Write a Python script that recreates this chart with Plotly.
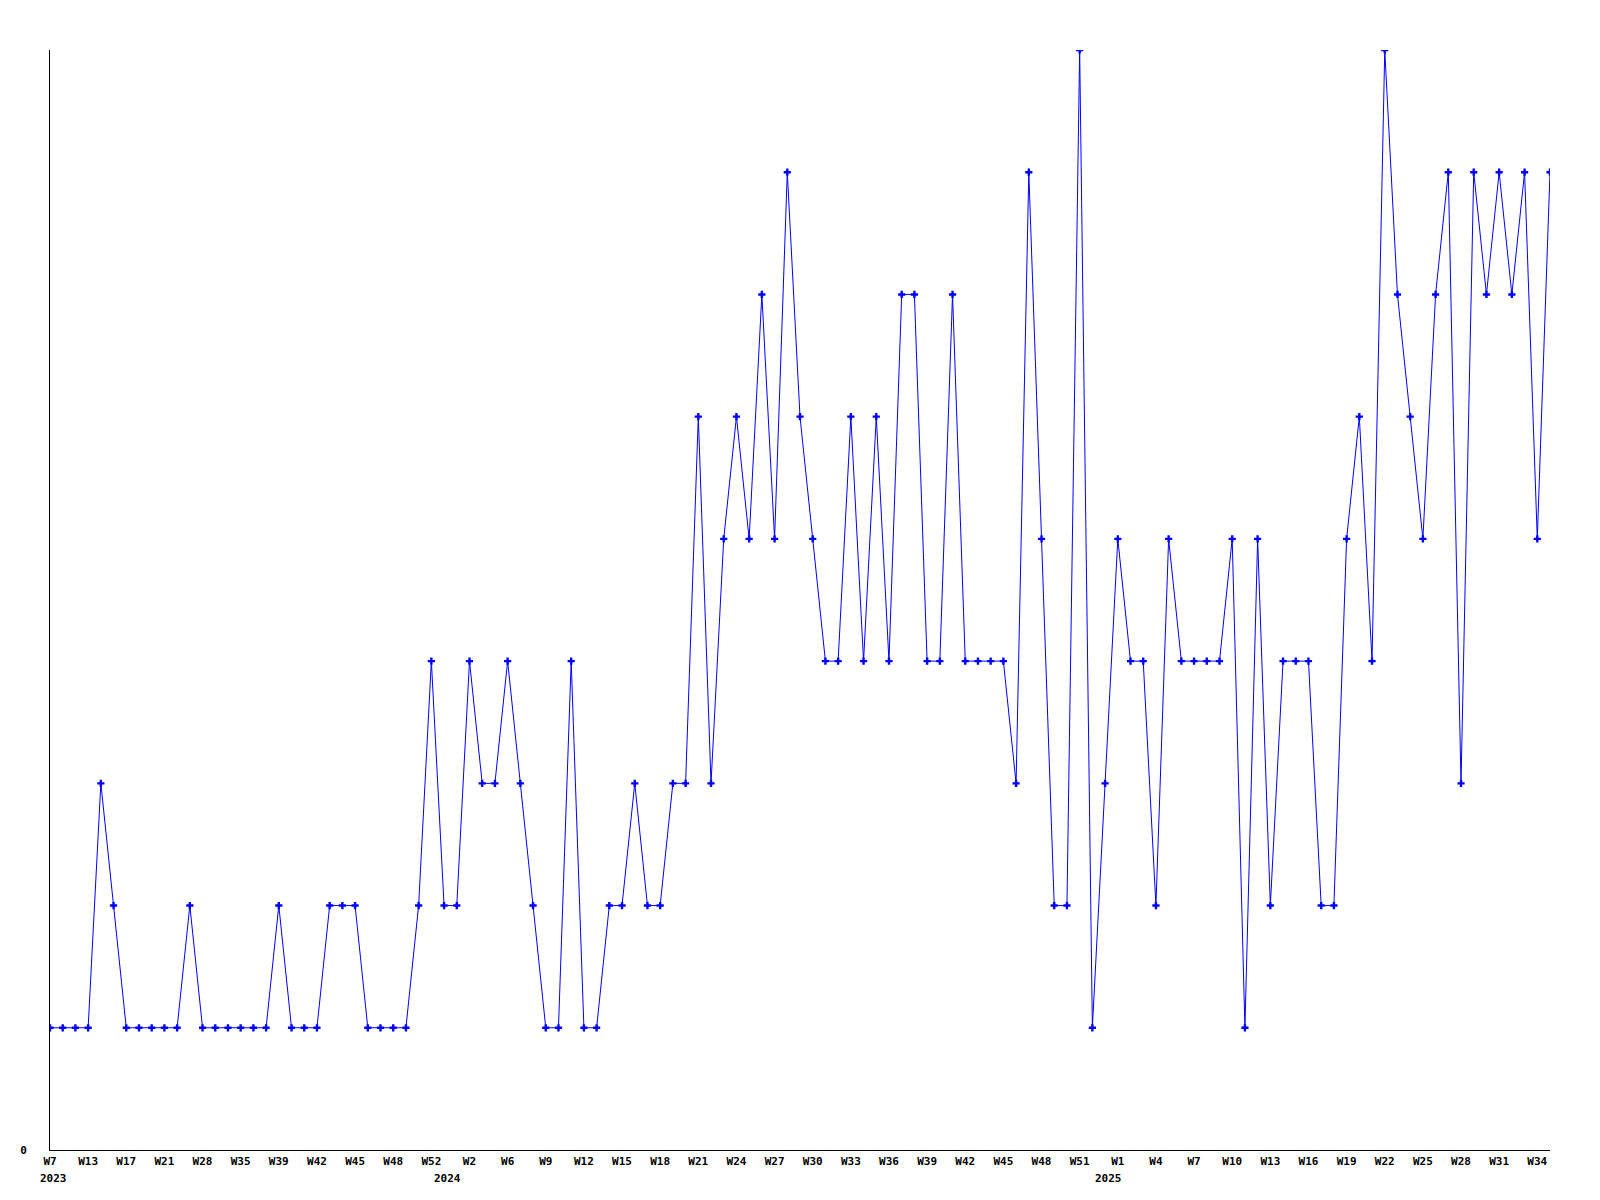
import plotly.graph_objects as go

# Weekly values (one point per week with data)
values = [
    1, 1, 1, 1, 3, 2, 1, 1, 1, 1,
    1, 2, 1, 1, 1, 1, 1, 1, 2, 1,
    1, 1, 2, 2, 2, 1, 1, 1, 1, 2,
    4, 2, 2, 4, 3, 3, 4, 3, 2, 1,
    1, 4, 1, 1, 2, 2, 3, 2, 2, 3,
    3, 6, 3, 5, 6, 5, 7, 5, 8, 6,
    5, 4, 4, 6, 4, 6, 4, 7, 7, 4,
    4, 7, 4, 4, 4, 4, 3, 8, 5, 2,
    2, 9, 1, 3, 5, 4, 4, 2, 5, 4,
    4, 4, 4, 5, 1, 5, 2, 4, 4, 4,
    2, 2, 5, 6, 4, 9, 7, 6, 5, 7,
    8, 3, 8, 7, 8, 7, 8, 5, 8,
]

# Tick labels shown every third point
week_labels = [
    "W7", "W13", "W17", "W21", "W28", "W35", "W39", "W42", "W45", "W48",
    "W52", "W2", "W6", "W9", "W12", "W15", "W18", "W21", "W24", "W27",
    "W30", "W33", "W36", "W39", "W42", "W45", "W48", "W51", "W1", "W4",
    "W7", "W10", "W13", "W16", "W19", "W22", "W25", "W28", "W31", "W34",
]
tick_step = 3

# Year labels and the point index where each year begins
years = ["2023", "2024", "2025"]
year_start_index = [0, 31, 83]

x = list(range(len(values)))
tickvals = [i * tick_step for i in range(len(week_labels))]

font = dict(family="DejaVu Sans Mono", size=11, color="black")

fig = go.Figure()
fig.add_trace(go.Scatter(
    x=x, y=values, mode="lines+markers",
    line=dict(color="#0000FF", width=1),
    marker=dict(symbol="cross", size=6, color="#0000FF", line=dict(width=0)),
    hoverinfo="x+y",
))

for yr, idx in zip(years, year_start_index):
    fig.add_annotation(
        x=idx, y=0, xref="x", yref="paper", text="<b>%s</b>" % yr,
        showarrow=False, xanchor="center", yanchor="top",
        yshift=-20, xshift=3,
        font=font,
    )

fig.update_layout(
    width=1600, height=1200,
    margin=dict(l=50, r=50, t=50, b=50),
    plot_bgcolor="white", paper_bgcolor="white",
    showlegend=False,
    font=font,
)
fig.update_xaxes(
    range=[0, len(values) - 1],
    tickmode="array", tickvals=tickvals,
    ticktext=["<b>%s</b>" % t for t in week_labels],
    showgrid=False, zeroline=False,
    showline=True, linecolor="black", linewidth=1,
    ticks="outside", ticklen=1, tickcolor="rgba(0,0,0,0)",
    tickfont=font,
)
fig.update_yaxes(
    range=[0, 9],
    tickmode="array", tickvals=[0], ticktext=["<b>0</b>"],
    showgrid=False, zeroline=False,
    showline=True, linecolor="black", linewidth=1,
    ticks="outside", ticklen=20, tickcolor="rgba(0,0,0,0)",
    tickfont=font,
)

fig.write_html(
    "out.html",
    config={"displayModeBar": False},
    post_script="document.body.style.margin='0';document.body.style.padding='0';",
)
